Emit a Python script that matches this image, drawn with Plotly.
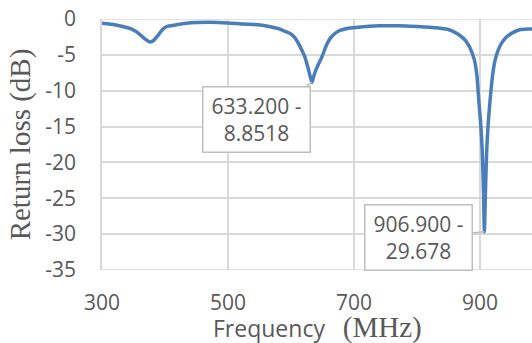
import plotly.graph_objects as go

# Return-loss sweep of the antenna (frequency in MHz, S11 in dB)
freq_mhz = [
    300, 320, 333, 345, 355, 363, 370, 376, 382, 388, 393, 398, 405, 418, 434,
    450, 471, 500, 524, 548, 567, 580, 590, 598, 606, 613, 618, 622, 627, 631,
    633.2, 636, 640, 644, 649, 655, 660, 665, 675, 691, 710, 740, 770, 800,
    820, 837, 851, 861, 868, 877, 884, 891, 895, 898, 901, 903.5, 905.5,
    906.9, 908.5, 910.6, 913, 916, 920, 924, 929, 934, 942, 952, 963, 979, 990,
]
return_loss_db = [
    -0.6, -0.8, -1.05, -1.35, -1.8, -2.4, -2.9, -3.2, -3.0, -2.4, -1.8, -1.3,
    -1.0, -0.8, -0.6, -0.5, -0.46, -0.55, -0.7, -0.8, -1.07, -1.35, -1.7, -2.0,
    -2.6, -3.6, -4.5, -5.3, -6.8, -8.2, -8.8518, -8.0, -7.0, -6.2, -5.3, -3.9,
    -3.0, -2.4, -1.7, -1.3, -1.1, -0.95, -0.95, -1.05, -1.15, -1.3, -1.5, -1.9,
    -2.3, -3.0, -4.0, -5.7, -7.8, -11.3, -14.5, -18.3, -24.0, -29.678, -24.5,
    -18.3, -14.5, -11.3, -7.8, -5.7, -4.3, -3.4, -2.5, -1.9, -1.5, -1.4, -1.35,
]

# Resonances called out on the chart
marked_freq = [633.2, 906.9]
marked_db = [-8.8518, -29.678]
callout_offsets = [(-55, 37), (-66, 6)]

x_ticks = [300, 500, 700, 900]
y_ticks = [0, -5, -10, -15, -20, -25, -30, -35]

GRID = "#D9D9D9"
TEXT = "#595959"
SANS = "Open Sans"
SERIF = "Liberation Serif"

fig = go.Figure()
fig.add_trace(go.Scatter(
    x=freq_mhz, y=return_loss_db, mode="lines",
    line=dict(color="#4A7EBB", width=3.5, shape="spline", smoothing=0.5),
    showlegend=False, hoverinfo="skip",
))

for f, db, (ax, ay) in zip(marked_freq, marked_db, callout_offsets):
    fig.add_annotation(
        x=f, y=db, xref="x", yref="y",
        text=f"{f:.3f} -<br>{abs(db):g}",
        showarrow=True, arrowhead=0, arrowwidth=1.5, arrowcolor="#BFBFBF",
        ax=ax, ay=ay, standoff=0,
        font=dict(family=SANS, size=21, color=TEXT),
        bgcolor="white", bordercolor="#BFBFBF", borderwidth=1.5, borderpad=3,
        width=100, height=58, align="center",
    )

# x-axis title: sans word plus serif unit, set under the tick labels
fig.add_annotation(
    xref="paper", yref="paper", x=0.5, y=0, xanchor="center", yanchor="top",
    yshift=-39, showarrow=False,
    text=("Frequency&nbsp;&nbsp;&nbsp;"
          f"<span style='font-family:{SERIF};font-size:29px'>(MHz)</span>"),
    font=dict(family=SANS, size=23, color=TEXT),
)

fig.update_layout(
    width=532, height=343,
    margin=dict(l=102, r=0, t=19, b=73),
    paper_bgcolor="white", plot_bgcolor="white",
    xaxis=dict(
        range=[300, 982.5], tickvals=x_ticks, ticktext=[str(v) for v in x_ticks],
        showgrid=True, gridcolor=GRID, gridwidth=1.5,
        showline=False, zeroline=False, ticks="",
        ticklabelstandoff=18,
        tickfont=dict(family=SANS, size=21, color=TEXT),
    ),
    yaxis=dict(
        range=[-35, 0], tickvals=y_ticks, ticktext=[str(v) for v in y_ticks],
        showgrid=True, gridcolor=GRID, gridwidth=1.5,
        showline=True, linecolor=GRID, linewidth=1.5, mirror=False,
        zeroline=False, ticks="",
        ticklabelstandoff=20,
        tickfont=dict(family=SANS, size=21, color=TEXT),
        title=dict(
            text="Return loss (dB)",
            font=dict(family=SERIF, size=29, color=TEXT), standoff=6,
        ),
    ),
    shapes=[
        dict(type="line", xref="paper", yref="y", x0=0, x1=1, y0=-35, y1=-35,
             line=dict(color=GRID, width=1.5)),
        dict(type="line", xref="paper", yref="y", x0=0, x1=1, y0=0, y1=0,
             line=dict(color=GRID, width=1.5), layer="below"),
    ],
)

fig.write_html("out.html")
